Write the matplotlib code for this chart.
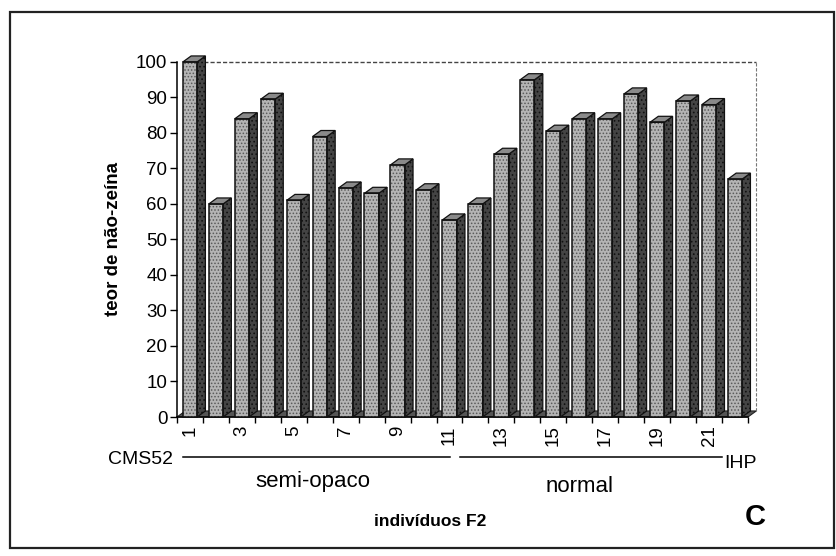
import numpy as np
import matplotlib.pyplot as plt
from matplotlib.patches import Polygon, Rectangle

plt.rcParams['font.family'] = ['Liberation Sans', 'DejaVu Sans']
plt.rcParams['hatch.linewidth'] = 0.7

# teor de não-zeína por indivíduo (1 = CMS52, 22 = IHP)
individuos = np.arange(1, 23)
teor = [100, 60, 84, 89.5, 61, 79, 64.5, 63, 71, 64, 55.5,
        60, 74, 95, 80.5, 84, 84, 91, 83, 89, 88, 67]
rotulos = [str(i) for i in range(1, 23, 2)]

fig = plt.figure(figsize=(8.36, 5.56), dpi=100)
ax = fig.add_axes([0.2117, 0.25, 0.683, 0.6385])

largura = 0.55
dx, dy = 0.32, 1.7   # profundidade do efeito 3D

# chão e paredes do fundo
ax.add_patch(Polygon([(0.5, 0), (22.5, 0), (22.5 + dx, dy), (0.5 + dx, dy)],
                     closed=True, facecolor='#555555', edgecolor='#222222',
                     lw=0.8, zorder=1, clip_on=False))
ax.plot([0.5 + dx, 22.5 + dx], [100, 100], ls=(0, (3, 1.5)), color='#444444',
        lw=1.0, zorder=1, clip_on=False)
ax.plot([22.5 + dx, 22.5 + dx], [dy, 100], ls=(0, (3, 1.5)), color='#777777',
        lw=0.8, zorder=1, clip_on=False)

# colunas: face frontal, lateral e topo
barras = ax.bar(individuos, teor, width=largura, color='#b4b4b4',
                edgecolor='#5a5a5a', hatch='.....', lw=0, zorder=3)
for b, v in zip(individuos, teor):
    x0, x1 = b - largura / 2, b + largura / 2
    ax.add_patch(Polygon([(x1, 0), (x1 + dx, dy), (x1 + dx, v + dy), (x1, v)],
                         closed=True, facecolor='#444444', edgecolor='#111111',
                         lw=0.9, hatch='....', zorder=3, clip_on=False))
    ax.add_patch(Polygon([(x0, v), (x1, v), (x1 + dx, v + dy), (x0 + dx, v + dy)],
                         closed=True, facecolor='#8a8a8a', edgecolor='#111111',
                         lw=0.9, zorder=3, clip_on=False))
    ax.add_patch(Rectangle((x0, 0), largura, v, fill=False, edgecolor='#111111',
                           lw=1.1, zorder=4, clip_on=False))

ax.set_xlim(0.5, 22.5)
ax.set_ylim(0, 100)
ax.set_yticks(range(0, 101, 10))
ax.tick_params(axis='y', labelsize=13.5, length=5, width=1, pad=2)

ax.set_xticks(range(1, 23, 2))
ax.set_xticklabels(rotulos, rotation=90, fontsize=13.5)
ax.set_xticks(np.arange(0.5, 23, 1), minor=True)
ax.tick_params(axis='x', which='major', length=0, pad=6)
ax.tick_params(axis='x', which='minor', length=4, width=1)

for lado in ['top', 'right']:
    ax.spines[lado].set_visible(False)
ax.spines['left'].set_linewidth(1.1)
ax.spines['bottom'].set_linewidth(1.1)

ax.set_ylabel('teor de não-zeína', fontsize=13.5, fontweight='bold', labelpad=10)

# grupos de indivíduos abaixo do eixo
fig.text(0.207, 1 - 459 / 556, 'CMS52', fontsize=14, ha='right', va='center')
fig.lines.append(plt.Line2D([183 / 836, 450 / 836], [1 - 457 / 556] * 2,
                            color='black', lw=1.1, transform=fig.transFigure))
fig.lines.append(plt.Line2D([460 / 836, 722 / 836], [1 - 457 / 556] * 2,
                            color='black', lw=1.1, transform=fig.transFigure))
fig.text(0.866, 1 - 464 / 556, 'IHP', fontsize=14, ha='left', va='center')
fig.text(0.374, 1 - 481 / 556, 'semi-opaco', fontsize=16, ha='center', va='center')
fig.text(0.693, 1 - 486 / 556, 'normal', fontsize=16, ha='center', va='center')
fig.text(0.515, 1 - 522 / 556, 'indivíduos F2', fontsize=12.5, fontweight='bold',
         ha='center', va='center')
fig.text(0.904, 1 - 517 / 556, 'C', fontsize=21, fontweight='bold',
         ha='center', va='center')

# moldura da figura
fig.patches.append(Rectangle((10 / 836, 8 / 556), 824 / 836, 536 / 556,
                             fill=False, edgecolor='#222222', lw=1.6,
                             transform=fig.transFigure))

fig.savefig('out.png', dpi=100)
